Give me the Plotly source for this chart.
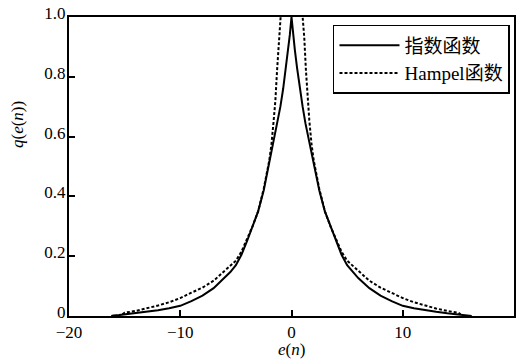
import plotly.graph_objects as go

# ---- data ----
x_exp = [-16.2, -16, -15.5, -15, -14, -13, -12, -11, -10, -9, -8, -7, -6, -5.5, -5,
         -4.5, -4, -3.5, -3, -2.5, -2, -1.75, -1.5, -1.25, -1, -0.75, -0.5, -0.3,
         -0.15, 0, 0.15, 0.3, 0.5, 0.75, 1, 1.25, 1.5, 1.75, 2, 2.5, 3, 3.5, 4, 4.5,
         5, 5.5, 6, 7, 8, 9, 10, 11, 12, 13, 14, 15, 15.5, 16, 16.2]
q_exp = [0.0, 0.002, 0.003, 0.005, 0.009, 0.014, 0.019, 0.026, 0.034, 0.05, 0.068,
         0.093, 0.127, 0.147, 0.17, 0.205, 0.25, 0.30, 0.35, 0.42, 0.51, 0.555, 0.60,
         0.645, 0.70, 0.76, 0.83, 0.89, 0.94, 1.0, 0.94, 0.89, 0.83, 0.76, 0.70, 0.645,
         0.60, 0.555, 0.51, 0.42, 0.35, 0.30, 0.25, 0.205, 0.17, 0.147, 0.127, 0.093,
         0.068, 0.05, 0.034, 0.026, 0.019, 0.014, 0.009, 0.005, 0.003, 0.002, 0.0]

x_hampel = [-15.2, -15, -14, -13, -12, -11, -10, -9, -8, -7, -6, -5.5, -5, -4.5, -4,
            -3.5, -3, -2.5, -2, -1.8, -1.6, -1.45, -1.3, -1.15, -1.0, -0.8, -0.5, 0,
            0.5, 0.8, 1.0, 1.15, 1.3, 1.45, 1.6, 1.8, 2, 2.5, 3, 3.5, 4, 4.5, 5, 5.5,
            6, 7, 8, 9, 10, 11, 12, 13, 14, 15, 15.2]
q_hampel = [0.006, 0.011, 0.017, 0.025, 0.035, 0.046, 0.06, 0.078, 0.095, 0.118,
            0.152, 0.168, 0.185, 0.215, 0.255, 0.30, 0.35, 0.425, 0.52, 0.575, 0.655,
            0.72, 0.82, 0.93, 1.0, 1.1, 1.2, 1.3, 1.2, 1.1, 1.0, 0.93, 0.82, 0.72,
            0.655, 0.575, 0.52, 0.425, 0.35, 0.30, 0.255, 0.215, 0.185, 0.168, 0.152,
            0.118, 0.095, 0.078, 0.06, 0.046, 0.035, 0.025, 0.017, 0.011, 0.006]

x_ticks = [-20, -10, 0, 10, 20]
x_ticktext = ["\u221220", "\u221210", "0", "10", "20"]
y_ticks = [0, 0.2, 0.4, 0.6, 0.8, 1.0]
y_ticktext = ["0", "0.2", "0.4", "0.6", "0.8", "1.0"]

FONT = "Liberation Serif, Times New Roman, Noto Sans CJK SC, serif"

fig = go.Figure()
fig.add_trace(go.Scatter(x=x_exp, y=q_exp, mode="lines", name="指数函数",
                         line=dict(color="black", width=2)))
fig.add_trace(go.Scatter(x=x_hampel, y=q_hampel, mode="lines", name="Hampel函数",
                         line=dict(color="black", width=2, dash="3px,2px")))

axis_common = dict(showline=True, linecolor="black", linewidth=2, mirror=True,
                   ticks="inside", ticklen=6, tickwidth=1.5, tickcolor="black",
                   showgrid=False, zeroline=False,
                   tickfont=dict(family=FONT, size=17, color="black"))

fig.update_layout(
    width=520, height=361,
    margin=dict(l=69, r=4, t=14, b=45),
    paper_bgcolor="white", plot_bgcolor="white",
    font=dict(family=FONT, size=17, color="black"),
    xaxis=dict(range=[-20, 20], tickvals=x_ticks, ticktext=x_ticktext,
               **axis_common),
    yaxis=dict(range=[0, 1], tickvals=y_ticks, ticktext=y_ticktext,
               ticklabelstandoff=-2, ticklabelshift=-4, **axis_common),
    legend=dict(x=0.991, xanchor="right", y=0.9735, yanchor="top",
                bordercolor="black", borderwidth=1.5, bgcolor="white",
                itemwidth=60, tracegroupgap=0,
                font=dict(family=FONT, size=19, color="black")),
    showlegend=True,
)
fig.add_annotation(text="<i>e</i>(<i>n</i>)", xref="paper", yref="paper",
                   x=0.5, xanchor="center", y=-0.112, yanchor="middle",
                   showarrow=False, font=dict(family=FONT, size=17, color="black"))
fig.add_annotation(text="<i>q</i>(<i>e</i>(<i>n</i>))", xref="paper", yref="paper",
                   x=-0.116, xanchor="center", y=0.64, textangle=-90, showarrow=False,
                   font=dict(family=FONT, size=17, color="black"))

fig.write_html("out.html")
